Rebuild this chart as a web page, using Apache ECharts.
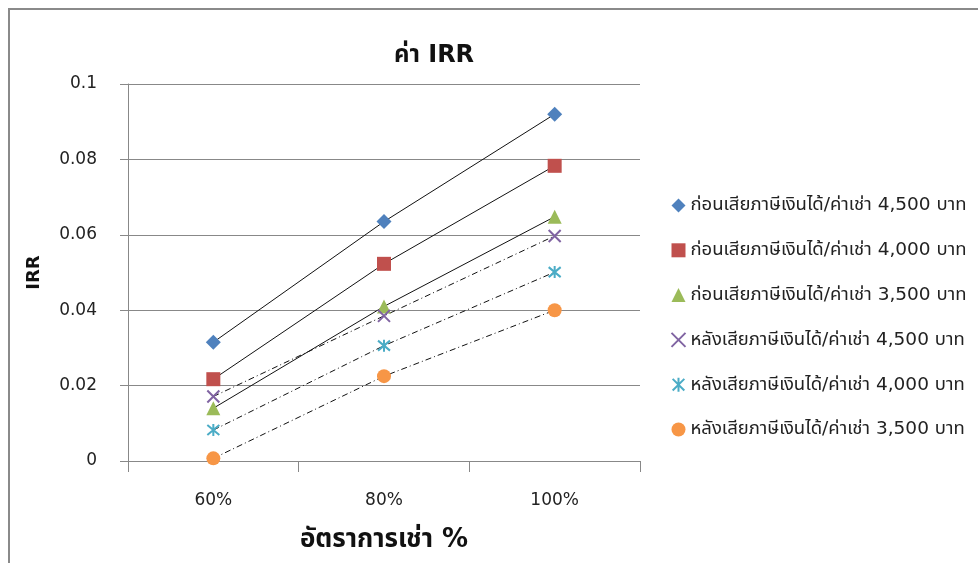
<!DOCTYPE html>
<html>
<head>
<meta charset="utf-8">
<script src="https://cdn.jsdelivr.net/npm/echarts@6/dist/echarts.min.js"></script>
<style>
  html, body { margin: 0; padding: 0; background: #fff; }
  #chart { width: 978px; height: 563px; }
</style>
</head>
<body>
<div id="chart"></div>
<script>
// Rental rate categories (x axis)
const categories = ['60%', '80%', '100%'];

// IRR values per scenario
const before4500 = [0.0315, 0.0635, 0.0920];
const before4000 = [0.0217, 0.0523, 0.0783];
const before3500 = [0.0140, 0.0410, 0.0648];
const after4500  = [0.0171, 0.0385, 0.0597];
const after4000  = [0.0082, 0.0306, 0.0501];
const after3500  = [0.0007, 0.0225, 0.0400];

const seriesNames = [
  'ก่อนเสียภาษีเงินได้/ค่าเช่า 4,500 บาท',
  'ก่อนเสียภาษีเงินได้/ค่าเช่า 4,000 บาท',
  'ก่อนเสียภาษีเงินได้/ค่าเช่า 3,500 บาท',
  'หลังเสียภาษีเงินได้/ค่าเช่า 4,500 บาท',
  'หลังเสียภาษีเงินได้/ค่าเช่า 4,000 บาท',
  'หลังเสียภาษีเงินได้/ค่าเช่า 3,500 บาท'
];

const FONT = '"DejaVu Sans", "Noto Sans Thai", "Noto Sans", sans-serif';
const DASH_DOT = [6, 3, 1, 3];

const CROSS = 'path://M0,0L10,10M10,0L0,10';
const STAR = 'path://M0,0L10,10M10,0L0,10M5,-1L5,11';

const markers = [
  { color: '#4F81BD', symbol: 'diamond', size: 15, dashed: false, stroke: false },
  { color: '#C0504D', symbol: 'rect', size: 14, dashed: false, stroke: false },
  { color: '#9BBB59', symbol: 'triangle', size: 14, dashed: false, stroke: false },
  { color: '#8064A2', symbol: CROSS, size: 12, dashed: true, stroke: true },
  { color: '#4BACC6', symbol: STAR, size: 12, dashed: true, stroke: true },
  { color: '#F79646', symbol: 'circle', size: 14, dashed: true, stroke: false }
];
const seriesData = [before4500, before4000, before3500, after4500, after4000, after3500];

function itemStyleFor(m) {
  if (m.stroke) return { color: 'none', borderColor: m.color, borderWidth: 2 };
  return { color: m.color };
}

const chart = echarts.init(document.getElementById('chart'), null, { renderer: 'canvas' });

chart.setOption({
  animation: false,
  backgroundColor: '#fff',
  textStyle: { fontFamily: FONT },
  graphic: [{
    type: 'rect',
    shape: { x: 9, y: 9, width: 1000, height: 600 },
    style: { fill: 'none', stroke: '#8a8a8a', lineWidth: 2 },
    silent: true
  }],
  title: {
    text: 'ค่า IRR',
    left: 429,
    top: 39,
    textAlign: 'center',
    textStyle: { fontFamily: FONT, fontSize: 24, fontWeight: 'bold', color: '#111' }
  },
  legend: {
    orient: 'vertical',
    left: 664,
    top: 191,
    itemWidth: 14,
    itemHeight: 14,
    itemGap: 25.8,
    selectedMode: false,
    textStyle: { fontFamily: FONT, fontSize: 18.5, color: '#222' },
    data: seriesNames.map((n, i) => ({
      name: n,
      icon: markers[i].symbol,
      itemStyle: itemStyleFor(markers[i])
    }))
  },
  grid: { left: 128, right: 338, top: 84, bottom: 102 },
  xAxis: {
    type: 'category',
    data: categories,
    boundaryGap: true,
    name: 'อัตราการเช่า %',
    nameLocation: 'middle',
    nameGap: 66,
    nameTextStyle: { fontFamily: FONT, fontSize: 26, fontWeight: 'bold', color: '#111' },
    axisLine: { lineStyle: { color: '#888', width: 1 } },
    axisTick: { show: true, length: 11, lineStyle: { color: '#888' } },
    axisLabel: { fontFamily: FONT, fontSize: 17, color: '#222', margin: 31 },
    splitLine: { show: false }
  },
  yAxis: {
    type: 'value',
    min: 0,
    max: 0.1,
    interval: 0.02,
    name: 'IRR',
    nameLocation: 'middle',
    nameGap: 85,
    nameRotate: 90,
    nameTextStyle: { fontFamily: FONT, fontSize: 18, fontWeight: 'bold', color: '#111' },
    axisLine: { show: true, lineStyle: { color: '#888', width: 1 } },
    axisTick: { show: true, length: 8, lineStyle: { color: '#888' } },
    axisLabel: {
      fontFamily: FONT, fontSize: 17, color: '#222', margin: 31,
      formatter: v => String(+v.toFixed(2))
    },
    splitLine: { show: true, lineStyle: { color: '#888', width: 1 } }
  },
  series: seriesNames.map((n, i) => ({
    name: n,
    type: 'line',
    data: seriesData[i],
    symbol: markers[i].symbol,
    symbolSize: markers[i].size,
    showSymbol: true,
    itemStyle: itemStyleFor(markers[i]),
    lineStyle: { color: '#111', width: 1, type: markers[i].dashed ? DASH_DOT : 'solid' },
    emphasis: { disabled: true },
    z: 3
  }))
});
</script>
</body>
</html>
